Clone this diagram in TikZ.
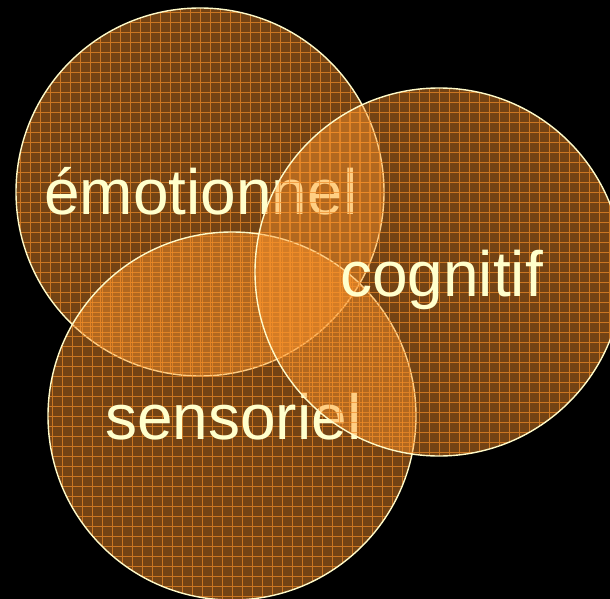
\documentclass[tikz,border=0pt]{standalone}
\usepackage{fontspec}
\setmainfont{Liberation Sans}
\definecolor{bgc}{RGB}{0,0,0}
\definecolor{fillc}{RGB}{255,150,45}
\definecolor{gridc}{RGB}{240,140,40}
\definecolor{rimc}{RGB}{255,250,200}
\definecolor{txtc}{RGB}{255,255,204}
\tikzset{
  setcircle/.style={circle, inner sep=0pt, minimum size=368pt,
    draw=rimc, line width=1.4pt, fill=fillc, fill opacity=0.45, draw opacity=1,
    path picture={\draw[gridc, line width=0.9pt, draw opacity=0.7]
      ([shift={(-5pt,-5pt)}]path picture bounding box.south west) grid[step=10pt]
      ([shift={(5pt,5pt)}]path picture bounding box.north east);}},
  setlabel/.style={anchor=base west, inner sep=0pt, text=txtc, font=\fontsize{64}{64}\selectfont}
}
\begin{document}
\begin{tikzpicture}[x=1pt,y=-1pt]
\fill[bgc] (0,0) rectangle (610,599);
\useasboundingbox (0,0) rectangle (610,599);
\node[setcircle] (emo) at (200,192) {};
\node[setlabel] (emot) at (44,214) {émotionnel};
\node[setcircle] (sen) at (232,416) {};
\node[setlabel] (sent) at (105,439) {sensoriel};
\node[setcircle] (cog) at (439,272) {};
\node[setlabel] (cogt) at (340,296) {cognitif};
\end{tikzpicture}
\end{document}
